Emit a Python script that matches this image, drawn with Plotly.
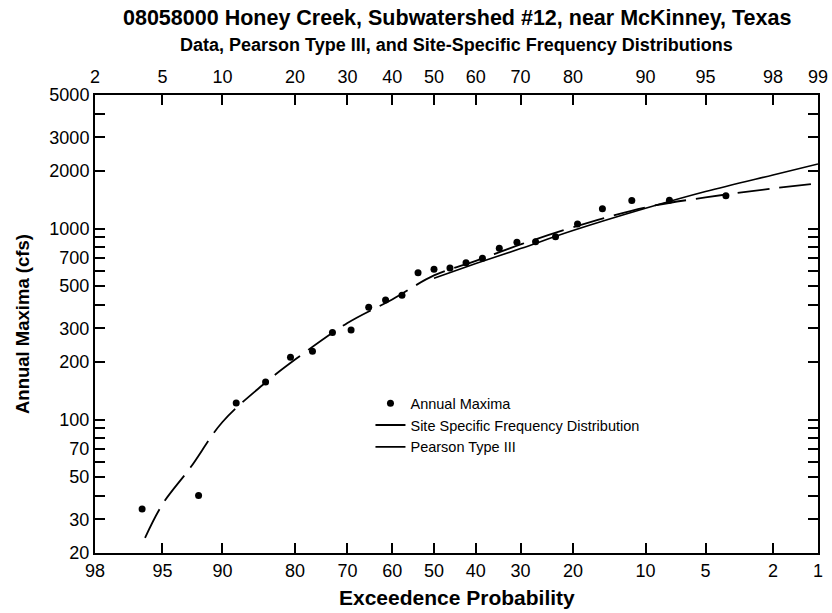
import math
from statistics import NormalDist
import plotly.graph_objects as go

# annual maxima, largest first, plotted at their percent exceedance
peak_exceed = [3.85, 7.69, 11.54, 15.38, 19.23, 23.08, 26.92, 30.77, 34.62, 38.46,
               42.31, 46.15, 50.0, 53.85, 57.69, 61.54, 65.38, 69.23, 73.08, 76.92,
               80.77, 84.62, 88.46, 92.31, 96.15]
peak_flow = [1485, 1405, 1400, 1270, 1056, 906, 853, 847, 788, 698,
             662, 621, 611, 587, 447, 422, 387, 294, 285, 228,
             212, 157, 122, 40, 34]

# site specific frequency distribution
site_exceed = [96, 95, 93, 90, 85, 80, 70, 60, 50, 40, 30, 20, 10, 5, 2, 1]
site_flow = [24, 36, 56, 97, 152, 206, 320, 425, 568, 677, 825, 1015, 1290, 1455, 1620, 1725]

# pearson type III
p3_exceed = [50, 40, 30, 20, 10, 5, 2, 1]
p3_flow = [549, 655, 785, 975, 1275, 1561, 1908, 2176]

bottom_ticks = [98, 95, 90, 80, 70, 60, 50, 40, 30, 20, 10, 5, 2, 1]
top_ticks = [2, 5, 10, 20, 30, 40, 50, 60, 70, 80, 90, 95, 98, 99]
y_ticks = [20, 30, 40, 50, 60, 70, 80, 90, 100, 200, 300, 400, 500, 600, 700, 800, 900,
           1000, 2000, 3000, 4000, 5000]
y_labels = [20, 30, 50, 70, 100, 200, 300, 500, 700, 1000, 2000, 3000, 5000]

nd = NormalDist()


def z_exc(vals):
    # exceedance percent -> standard normal deviate
    return [nd.inv_cdf(1 - v / 100) for v in vals]


def z_non(vals):
    return [nd.inv_cdf(v / 100) for v in vals]


FONT = "Liberation Sans, Arial, sans-serif"
xr = [nd.inv_cdf(0.02), nd.inv_cdf(0.99)]

fig = go.Figure()
fig.add_trace(go.Scatter(x=z_exc(peak_exceed), y=peak_flow, mode="markers",
                         marker=dict(size=7, color="black"), name="Annual Maxima"))
fig.add_trace(go.Scatter(x=z_exc(site_exceed), y=site_flow, mode="lines",
                         line=dict(color="black", width=1.8, dash="32px,10px", shape="spline"),
                         name="Site Specific Frequency Distribution"))
# same scale as x, drawn on the top axis so that axis gets rendered
fig.add_trace(go.Scatter(x=z_exc(p3_exceed), y=p3_flow, mode="lines", xaxis="x2",
                         line=dict(color="black", width=1.6, shape="spline"),
                         name="Pearson Type III"))

axis_common = dict(ticks="inside", ticklen=10, tickwidth=1.5, tickcolor="black",
                   showgrid=False, zeroline=False, automargin=False,
                   tickfont=dict(family=FONT, size=18, color="black"))

fig.update_layout(
    width=832, height=613, autosize=False,
    margin=dict(l=95, r=14, t=95, b=60, autoexpand=False),
    paper_bgcolor="white", plot_bgcolor="white",
    font=dict(family=FONT, color="black"),
    showlegend=True,
    legend=dict(x=0.381, y=0.362, xanchor="left", yanchor="top",
                bgcolor="rgba(0,0,0,0)", font=dict(size=14.5, family=FONT),
                tracegroupgap=0),
    xaxis=dict(range=xr, tickmode="array", tickvals=z_exc(bottom_ticks),
               ticktext=[str(t) for t in bottom_ticks],
               showline=True, linewidth=2, linecolor="black", mirror=True,
               **axis_common),
    xaxis2=dict(range=xr, overlaying="x", side="top", anchor="y", tickmode="array",
                tickvals=z_non(top_ticks), ticktext=[str(t) for t in top_ticks],
                showline=False, ticklabelstandoff=7, **axis_common),
    yaxis=dict(type="log", range=[math.log10(20), math.log10(5000)],
               tickmode="array", tickvals=y_ticks,
               ticktext=[str(t) if t in y_labels else "" for t in y_ticks],
               showline=True, linewidth=2, linecolor="black", mirror="ticks",
               **axis_common),
    annotations=[
        dict(text="<b>08058000 Honey Creek, Subwatershed #12, near McKinney, Texas</b>",
             x=0.5, y=(553 - 18) / 458, xref="paper", yref="paper", showarrow=False,
             xanchor="center", yanchor="middle", font=dict(size=21.5, family=FONT)),
        dict(text="<b>Data, Pearson Type III, and Site-Specific Frequency Distributions</b>",
             x=0.5, y=(553 - 45) / 458, xref="paper", yref="paper", showarrow=False,
             xanchor="center", yanchor="middle", font=dict(size=18, family=FONT)),
        dict(text="<b>Exceedence Probability</b>", x=0.5, y=(553 - 597) / 458,
             xref="paper", yref="paper", showarrow=False, xanchor="center",
             yanchor="middle", font=dict(size=21, family=FONT)),
        dict(text="<b>Annual Maxima (cfs)</b>", x=(22 - 95) / 723, y=0.5, textangle=-90,
             xref="paper", yref="paper", showarrow=False, xanchor="center",
             yanchor="middle", font=dict(size=18.5, family=FONT)),
    ],
)

fig.write_html("out.html", config={"displayModeBar": False, "responsive": False},
               post_script="document.body.style.margin='0';")
